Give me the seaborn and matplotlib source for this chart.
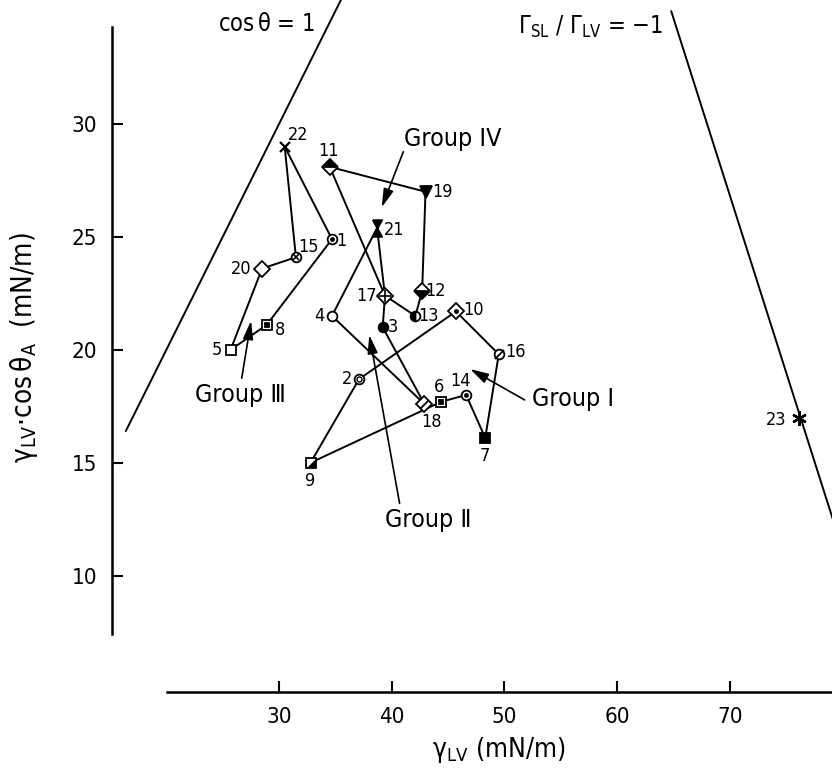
import matplotlib
matplotlib.use('Agg')
import pandas as pd
import matplotlib.pyplot as plt
import seaborn as sns
from matplotlib.path import Path

# %%
# liquid number, gamma_LV (mN/m) and gamma_LV*cos(theta_A) (mN/m)
liquid = list(range(1, 24))
gamma_lv = [34.7, 37.1, 39.2, 34.7, 25.7, 44.4, 48.3, 28.9, 32.8, 45.7, 34.5, 42.7,
            42.1, 46.6, 31.5, 49.5, 39.4, 42.9, 43.0, 28.5, 38.7, 30.5, 76.1]
gamma_cos = [24.9, 18.7, 21.0, 21.5, 20.0, 17.7, 16.1, 21.1, 15.0, 21.7, 28.1, 22.6,
             21.5, 18.0, 24.1, 19.8, 22.4, 17.6, 27.0, 23.6, 25.4, 29.0, 17.0]
symbol = ['circle_dot', 'circle_double', 'circle_filled', 'circle_open', 'square_open',
          'square_dot', 'square_filled', 'square_box', 'square_half', 'diamond_dot',
          'diamond_top', 'diamond_bottom', 'circle_left', 'circle_dot', 'circle_cross',
          'circle_slash', 'diamond_cross', 'diamond_slash', 'tri_down', 'diamond_open',
          'hourglass', 'x', 'star']

# closed outlines of the groups (liquid numbers)
group_1 = [10, 16, 7, 14, 6, 9, 2, 10]
group_2 = [17, 21, 4, 18, 3, 17]
group_3 = [22, 15, 20, 5, 8, 1, 22]
group_4 = [11, 19, 12, 13, 17, 11]

group_names = ['Group I', 'Group Ⅱ', 'Group Ⅲ', 'Group IV']

# limiting lines: cos(theta) = 1 and Gamma_SL/Gamma_LV = -1
cos1_x = [16.4, 35.5]
gam_x = [64.8, 79.4]
gam_y = [35.0, 12.1]

xticks = [30, 40, 50, 60, 70]
yticks = [10, 15, 20, 25, 30]

df = pd.DataFrame({'liquid': liquid, 'glv': gamma_lv, 'gcos': gamma_cos, 'symbol': symbol})
df = df.set_index('liquid')

# %%
sns.set_style('ticks')
plt.rcParams['font.family'] = ['DejaVu Sans']
plt.rcParams['font.stretch'] = 'condensed'
plt.rcParams['mathtext.default'] = 'regular'
for k in ['text.color', 'axes.labelcolor', 'xtick.color', 'ytick.color', 'axes.edgecolor']:
    plt.rcParams[k] = 'black'

fig = plt.figure(figsize=(8.32, 7.71), dpi=100)
ax = fig.add_axes([0, 0, 1, 1])
ax.set_xlim(5.24, 79.07)
ax.set_ylim(1.35, 35.49)

lw = 1.4
for grp in [group_1, group_2, group_3, group_4]:
    sub = df.loc[grp].reset_index()
    sns.lineplot(data=sub, x='glv', y='gcos', sort=False, estimator=None,
                 color='black', lw=lw, ax=ax, zorder=2)

sns.lineplot(x=cos1_x, y=cos1_x, color='black', lw=lw, ax=ax)
sns.lineplot(x=gam_x, y=gam_y, color='black', lw=lw, ax=ax)

slash = Path([(-0.5, -0.5), (0.5, 0.5)])
half_sq = [(-0.5, -0.5), (0.5, -0.5), (0.5, 0.5), (-0.5, -0.5)]
hourglass = Path([(-0.45, 0.8), (0.45, 0.8), (-0.45, -0.8), (0.45, -0.8), (-0.45, 0.8)])


def draw_marker(kind, x, y):
    kw = dict(color='black', mec='black', mew=1.3, ls='none', zorder=4)
    if kind.startswith('circle'):
        face = 'black' if kind == 'circle_filled' else 'white'
        if kind == 'circle_left':
            ax.plot(x, y, 'o', ms=7, mfc='black', fillstyle='left',
                    markerfacecoloralt='white', **kw)
        else:
            ax.plot(x, y, 'o', ms=7, mfc=face, **kw)
        if kind == 'circle_dot':
            ax.plot(x, y, 'o', ms=2.2, mfc='black', **kw)
        if kind == 'circle_double':
            ax.plot(x, y, 'o', ms=3.6, mfc='white', mew=1.0, color='black', ls='none', zorder=5)
        if kind == 'circle_cross':
            ax.plot(x, y, 'x', ms=4.2, mew=1.2, color='black', ls='none', zorder=5)
        if kind == 'circle_slash':
            ax.plot(x, y, marker=slash, ms=6.5, mew=1.3, color='black', ls='none', zorder=5)
    elif kind.startswith('square'):
        face = 'black' if kind == 'square_filled' else 'white'
        ax.plot(x, y, 's', ms=6.5, mfc=face, **kw)
        if kind == 'square_dot':
            ax.plot(x, y, 's', ms=2.2, mfc='black', **kw)
        if kind == 'square_box':
            ax.plot(x, y, 's', ms=3.2, mfc='black', **kw)
        if kind == 'square_half':
            ax.plot(x, y, marker=half_sq, ms=6.5, mfc='black', mew=0, color='black',
                    ls='none', zorder=5)
    elif kind.startswith('diamond'):
        if kind == 'diamond_top':
            ax.plot(x, y, 'D', ms=7.8, mfc='black', fillstyle='top',
                    markerfacecoloralt='white', **kw)
        elif kind == 'diamond_bottom':
            ax.plot(x, y, 'D', ms=7.8, mfc='black', fillstyle='bottom',
                    markerfacecoloralt='white', **kw)
        else:
            ax.plot(x, y, 'D', ms=7.8, mfc='white', **kw)
        if kind == 'diamond_dot':
            ax.plot(x, y, 'o', ms=2.2, mfc='black', **kw)
        if kind == 'diamond_cross':
            ax.plot(x, y, '+', ms=9, mew=1.2, color='black', ls='none', zorder=5)
        if kind == 'diamond_slash':
            ax.plot(x, y, marker=slash, ms=6.5, mew=1.3, color='black', ls='none', zorder=5)
    elif kind == 'tri_down':
        ax.plot(x, y, 'v', ms=8.5, mfc='black', **kw)
    elif kind == 'hourglass':
        ax.plot(x, y, marker=hourglass, ms=12, mfc='black', **kw)
    elif kind == 'x':
        ax.plot(x, y, 'x', ms=6.5, mew=1.6, color='black', ls='none', zorder=4)
    elif kind == 'star':
        ax.plot(x, y, marker=(6, 2, 0), ms=10.5, mew=1.7, color='black', ls='none', zorder=4)


for num, row in df.iterrows():
    draw_marker(row['symbol'], row['glv'], row['gcos'])

# offsets (pixels) of the liquid numbers from their symbols
label_off = {1: (9, -2), 2: (-12, 0), 3: (10, 0), 4: (-13, 0), 5: (-14, 0), 6: (-2, 15),
             7: (0, -18), 8: (13, -5), 9: (0, -18), 10: (18, 1), 11: (-1, 16), 12: (13, 0),
             13: (13, 0), 14: (-6, 14), 15: (13, 10), 16: (17, 2), 17: (-18, 0),
             18: (7, -18), 19: (17, 0), 20: (-21, 0), 21: (17, -2), 22: (13, 12),
             23: (-22, -2)}
for num, row in df.iterrows():
    dx, dy = label_off[num]
    ax.annotate(str(num), (row['glv'], row['gcos']), xytext=(dx / 1.389, dy / 1.389),
                textcoords='offset points', ha='center', va='center', fontsize=13)

# group labels and arrows
group_text = [(56.1, 17.82), (43.2, 12.46), (26.54, 18.0), (45.4, 29.34)]
arrow_from = [(51.8, 17.78), (40.7, 13.2), (26.69, 18.74), (41.03, 28.77)]
arrow_to = [(46.95, 19.15), (38.01, 20.66), (27.52, 21.29), (39.11, 26.31)]
for name, t, a0, a1 in zip(group_names, group_text, arrow_from, arrow_to):
    ax.text(t[0], t[1], name, ha='center', va='center', fontsize=18)
    ax.annotate('', xy=a1, xytext=a0,
                arrowprops=dict(arrowstyle='-|>,head_length=0.8,head_width=0.22',
                                color='black', lw=1.2, mutation_scale=14,
                                shrinkA=0, shrinkB=0))

ax.text(28.85, 34.43, r'cos$\,$θ = 1', ha='center', va='center', fontsize=17)
ax.text(57.6, 34.3, r'$\Gamma_{SL}$ / $\Gamma_{LV}$ = −1', ha='center', va='center',
        fontsize=17)

# detached axes
sns.despine(ax=ax)
ax.spines['left'].set_position(('data', 15.2))
ax.spines['left'].set_bounds(7.4, 34.3)
ax.spines['bottom'].set_position(('data', 4.85))
ax.spines['bottom'].set_bounds(20.1, 80)
for s in ['left', 'bottom']:
    ax.spines[s].set_linewidth(1.8)
ax.set_xticks(xticks)
ax.set_yticks(yticks)
ax.tick_params(direction='in', length=8, width=1.5, labelsize=16, pad=11)

ax.set_xlabel(r'γ$_{LV}$ (mN/m)', fontsize=19)
ax.xaxis.set_label_coords(49.5, 2.3, transform=ax.transData)
ax.xaxis.label.set_va('center')
ax.set_ylabel(r'γ$_{LV}$·cos$\,$θ$_{A}$  (mN/m)', fontsize=20)
ax.yaxis.set_label_coords(7.4, 20.1, transform=ax.transData)
ax.yaxis.label.set_va('center')

fig.savefig('out.png', dpi=100, facecolor='white')
